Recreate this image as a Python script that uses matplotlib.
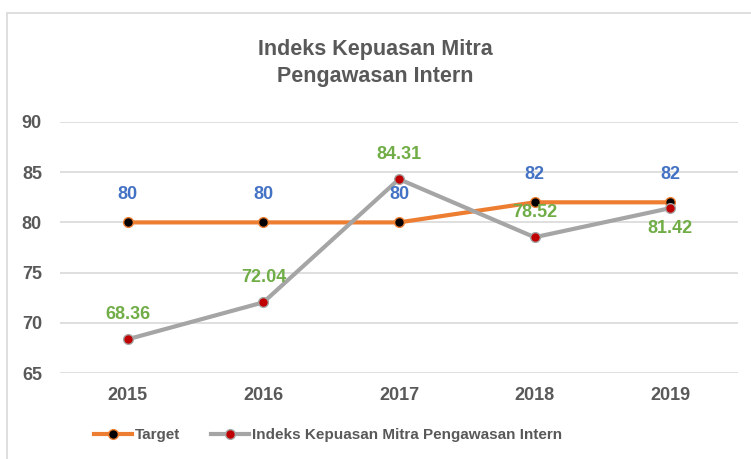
import matplotlib.pyplot as plt
from matplotlib.patches import Rectangle

# data
tahun = ['2015', '2016', '2017', '2018', '2019']
target = [80, 80, 80, 82, 82]
indeks = [68.36, 72.04, 84.31, 78.52, 81.42]
label_target = 'Target'
label_indeks = 'Indeks Kepuasan Mitra Pengawasan Intern'

plt.rcParams['font.family'] = ['Liberation Sans', 'DejaVu Sans']
abu = '#595959'

fig = plt.figure(figsize=(7.51, 4.59), dpi=100)
ax = fig.add_axes([60/751, 1-373/459, 678/751, 251/459])

# bingkai chart
fig.patches.append(Rectangle((7/751, -0.1), 1.0, 1-13/459+0.1, transform=fig.transFigure,
                             fill=False, edgecolor='#D9D9D9', lw=1.2))

x = list(range(len(tahun)))
ax.plot(x, target, color='#ED7D31', lw=3, marker='o', ms=7,
        mfc='black', mec='#ED7D31', mew=1, label=label_target, zorder=3)
ax.plot(x, indeks, color='#A5A5A5', lw=3, marker='o', ms=7,
        mfc='#C00000', mec='#A5A5A5', mew=1, label=label_indeks, zorder=3)

# label data
for i, v in enumerate(target):
    ax.annotate(str(v), (i, v), xytext=(0, 20), textcoords='offset points',
                ha='center', va='center', color='#4472C4', fontsize=13, fontweight='bold')
for i, v in enumerate(indeks):
    dy = -15 if i == 4 else 18
    ax.annotate('%.2f' % v, (i, v), xytext=(0, dy), textcoords='offset points',
                ha='center', va='center', color='#70AD47', fontsize=13, fontweight='bold')

ax.set_xlim(-0.5, len(tahun) - 0.5)
ax.set_ylim(65, 90)
ax.set_yticks([65, 70, 75, 80, 85, 90])
ax.set_xticks(x)
ax.set_xticklabels(tahun)
ax.tick_params(length=0, labelsize=13, labelcolor=abu, pad=10)
for lbl in ax.get_xticklabels() + ax.get_yticklabels():
    lbl.set_fontweight('bold')
ax.tick_params(axis='y', pad=13)
ax.grid(axis='y', color='#D9D9D9', lw=1.2)
ax.set_axisbelow(True)
for s in ax.spines.values():
    s.set_visible(False)

fig.text(0.5, 1-63/459, 'Indeks Kepuasan Mitra\nPengawasan Intern', ha='center', va='center',
         fontsize=15.5, fontweight='bold', color=abu, linespacing=1.35)

leg = fig.legend(loc='center', bbox_to_anchor=(328/751, 1-435/459), ncol=2, frameon=False,
                 prop={'size': 11, 'weight': 'bold'}, handlelength=2.5, columnspacing=2.0,
                 handletextpad=0.2)
for t in leg.get_texts():
    t.set_color(abu)

fig.savefig('out.png', dpi=100)
